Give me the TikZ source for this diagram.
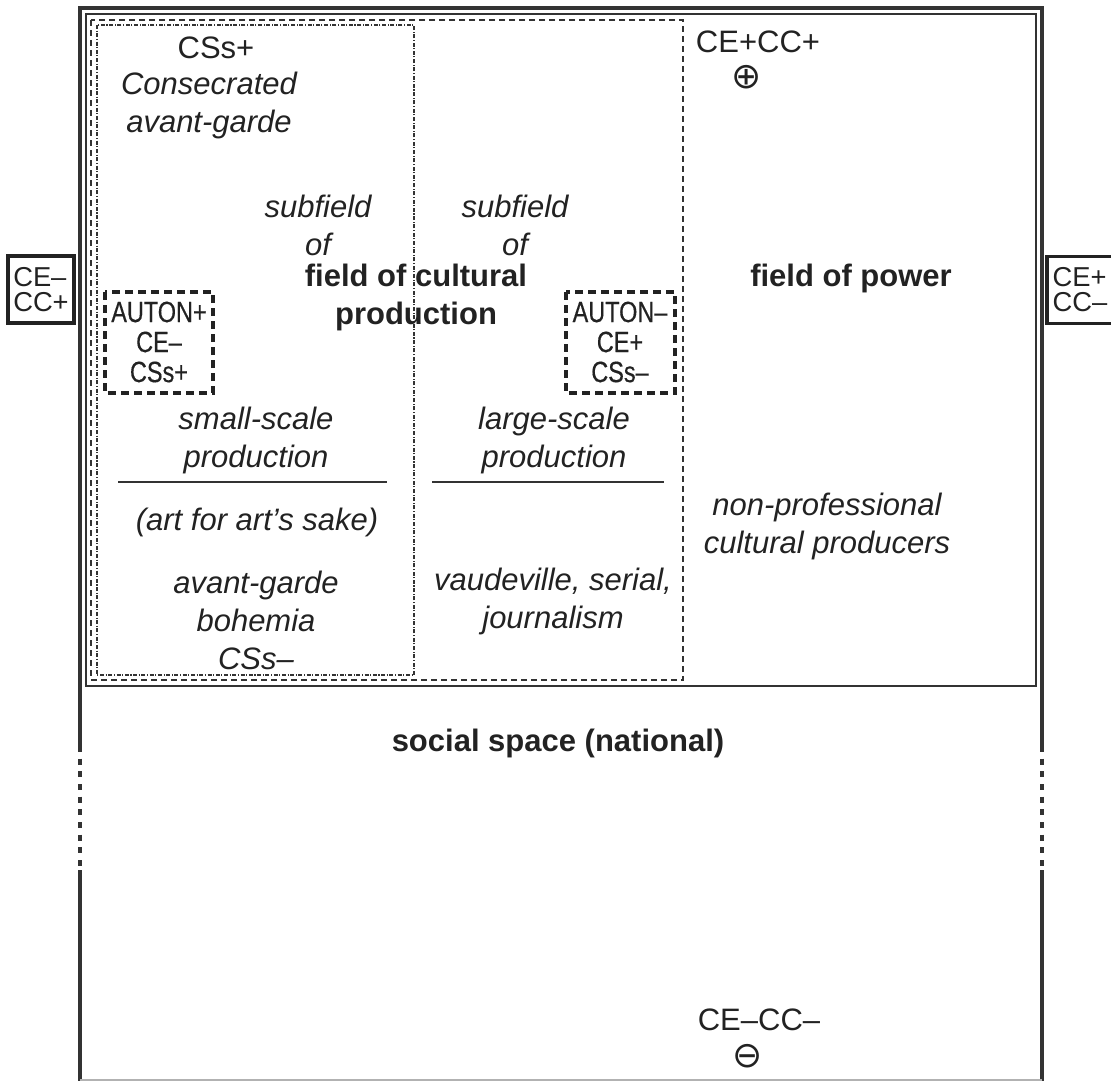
\documentclass[tikz,border=0pt]{standalone}
\usepackage{fontspec}
\setmainfont{Liberation Sans}
\newfontfamily\condfont[FakeStretch=0.8,FakeBold=0.4]{Liberation Sans}
\newfontfamily\symfont{DejaVu Sans}
\definecolor{ink}{HTML}{222222}
\definecolor{rule}{HTML}{333333}
\begin{document}
\begin{tikzpicture}[x=0.75pt,y=-0.75pt,
  txt/.style={inner sep=0pt,text=ink,align=center,font=\fontsize{23.25}{28.5}\selectfont},
  itx/.style={txt,font=\fontsize{23.25}{28.5}\selectfont\itshape},
  btx/.style={txt,font=\fontsize{23.25}{28.5}\selectfont\bfseries},
  autobox/.style={inner sep=0pt,text=ink,align=center,font=\condfont\fontsize{22}{22.5}\selectfont},
  sidebox/.style={draw=ink,line width=2.6pt,inner sep=0pt,text=ink,align=left,
     minimum width=49.5pt,minimum height=50pt,font=\fontsize{20.5}{18.75}\selectfont},
  symb/.style={inner sep=0pt,text=ink,font=\symfont\fontsize{27}{27}\selectfont},
  framel/.style={draw=rule,line width=2.3pt},
  framedash/.style={draw=rule,line width=2.3pt,dash pattern=on 4.5pt off 5pt},
  powerbox/.style={draw=rule,line width=1.5pt},
  fieldbox/.style={draw=rule,line width=1.2pt,dash pattern=on 4.5pt off 3pt},
  subbox/.style={draw=rule,line width=1pt,dash pattern=on 3pt off 1.2pt on 0.8pt off 1.2pt},
  autborder/.style={draw=ink,line width=2.8pt,dash pattern=on 6pt off 3.75pt},
  hrule/.style={draw=rule,line width=2pt}]
\useasboundingbox (0,0) rectangle (1111,1081);
% social space frame
\draw[framel] (80,746) -- (80,8) -- (1042,8) -- (1042,746);
\draw[framedash] (80,746) -- (80,870);
\draw[framedash] (1042,746) -- (1042,870);
\draw[framel] (80,870) -- (80,1081);
\draw[framel] (1042,870) -- (1042,1081);
\draw[draw=gray!60,line width=0.8pt] (80,1080) -- (1042,1080);
% field of power
\draw[powerbox] (86,14) rectangle (1036,686);
% field of cultural production
\draw[fieldbox] (91,20) rectangle (683,680);
% subfield of small-scale production
\draw[subbox] (97,25) rectangle (414,675);
% AUTON boxes
\draw[autborder] (105,292) rectangle (213,393);
\draw[autborder] (566,292) rectangle (675,393);
\node[autobox] (autp) at (159,342) {AUTON+\\CE–\\CSs+};
\node[autobox] (autm) at (620,342) {AUTON–\\CE+\\CSs–};
% side boxes
\node[sidebox] (lbox) at (41,289.5) {CE–\\CC+};
\node[sidebox] (rbox) at (1080,290) {CE+\\CC–};
% texts
\node[txt] (cssp) at (216,48) {CSs+};
\node[itx] (consec) at (209,105) {Consecrated\\avant-garde};
\node[itx] (subl) at (318,225) {subfield\\of};
\node[itx] (subr) at (515,225) {subfield\\of};
\node[btx] (fcp) at (416,297) {field of cultural\\production};
\node[btx] (fop) at (851,278) {field of power};
\node[itx] (ssp) at (256,440) {small-scale\\production};
\node[itx] (lsp) at (554,440) {large-scale\\production};
\draw[hrule] (118,482) coordinate (r1a) -- (387,482) coordinate (r1b);
\draw[hrule] (432,482) coordinate (r2a) -- (664,482) coordinate (r2b);
\node[itx] (afa) at (257,522) {(art for art’s sake)};
\node[itx] (agb) at (256,620) {avant-garde\\bohemia\\CSs–};
\node[itx] (vsj) at (553,601) {vaudeville, serial,\\journalism};
\node[itx] (npc) at (827,526) {non-professional\\cultural producers};
\node[txt] (cepcp) at (758,42) {CE+CC+};
\node[symb] (plus) at (747,77) {⊕};
\node[btx] (ssn) at (558,743) {social space (national)};
\node[txt] (cemcm) at (759,1020) {CE–CC–};
\node[symb] (minus) at (748,1056) {⊖};
\end{tikzpicture}
\end{document}
